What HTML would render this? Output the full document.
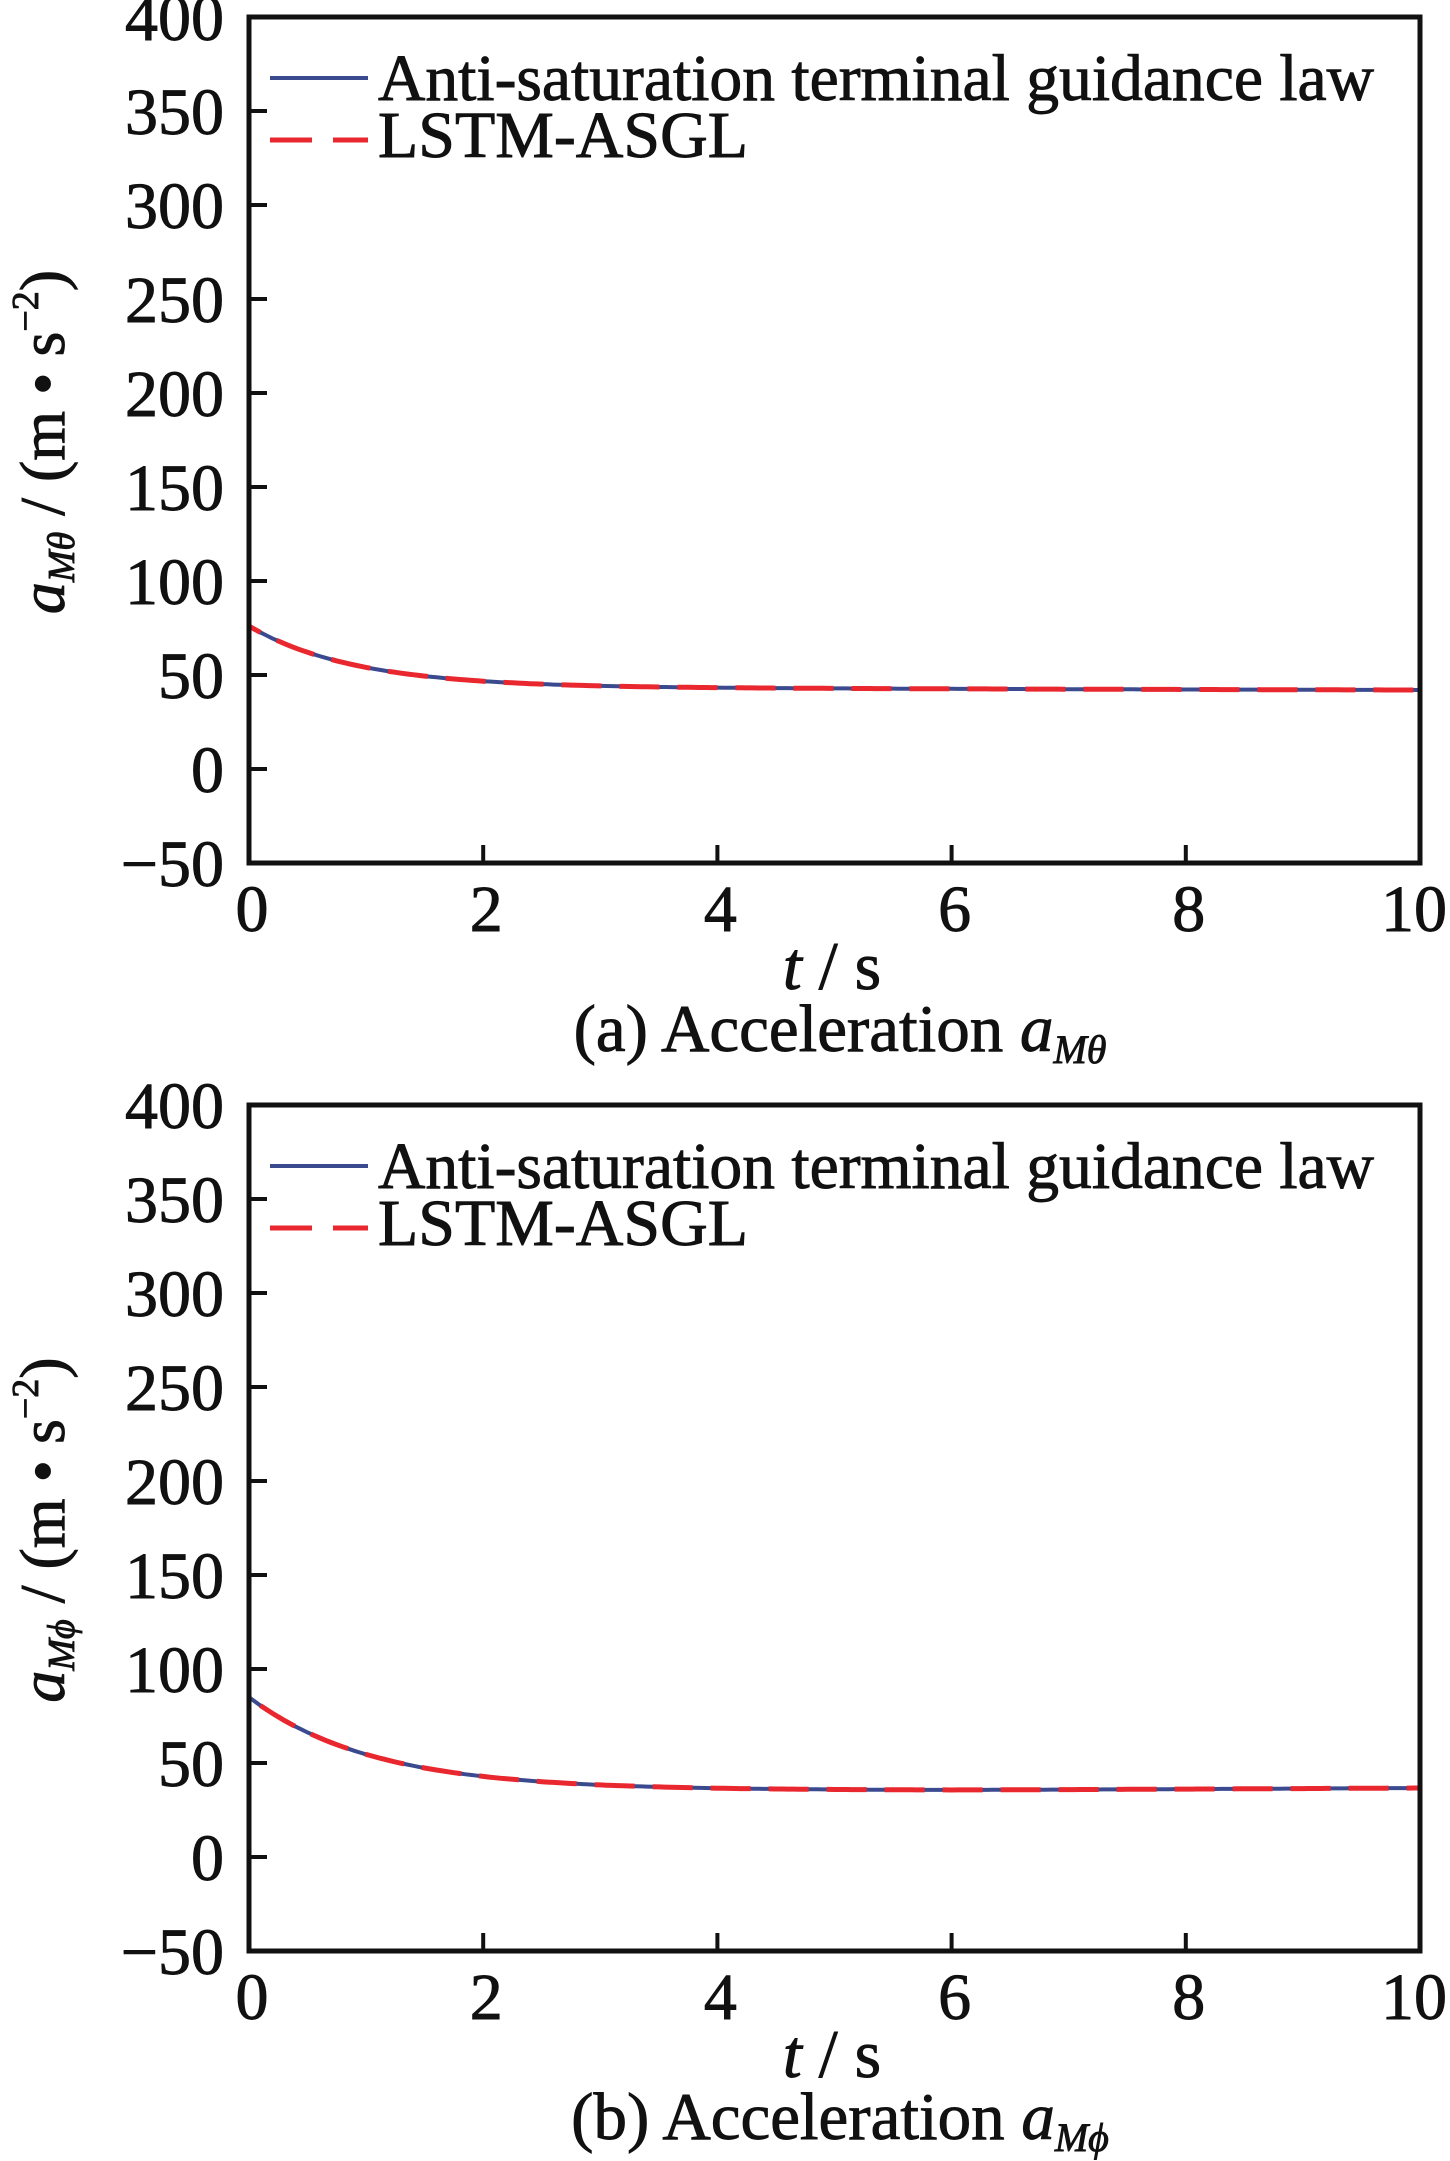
<!DOCTYPE html>
<html><head><meta charset="utf-8"><style>
html,body{margin:0;padding:0;background:#fff}
svg{display:block}
text{font-family:"Liberation Serif","Times New Roman",serif;fill:#111;stroke:#111;stroke-width:0.9}
</style></head><body>
<svg id="s" width="1450" height="2161" viewBox="0 0 1450 2161" xmlns="http://www.w3.org/2000/svg">
<g id="pa"></g>
<g id="pb"></g>
</svg>
<script>
var NS="http://www.w3.org/2000/svg";
function el(p,n,a,t){var e=document.createElementNS(NS,n);for(var k in a)e.setAttribute(k,a[k]);if(t!==undefined)e.textContent=t;p.appendChild(e);return e;}
function plot(g,top,f,lblSub,cap,capSub){
  var L=249,R=1420,B=top+846,ppu=94/50;
  var X=function(t){return L+(R-L)*t/10}, Y=function(v){return B-(v+50)*ppu};
  for(var v=-50;v<=400;v+=50){var y=Y(v);
    if(v>-50&&v<400){el(g,'line',{x1:L,y1:y,x2:L+18,y2:y,stroke:'#111','stroke-width':4});}
    el(g,'text',{x:224,y:y+23,'font-size':66,'text-anchor':'end'},v<0?'\u221250':String(v));}
  for(var t=0;t<=10;t+=2){var x=X(t);
    if(t>0&&t<10)el(g,'line',{x1:x,y1:B,x2:x,y2:B-18,stroke:'#111','stroke-width':4});
    el(g,'text',{x:x+(t==10?-6:3),y:B+68,'font-size':66,'text-anchor':'middle'},String(t));}
  var d='M'+X(0)+','+Y(0)+' L'+X(0)+','+Y(f(0));
  for(var i=1;i<=200;i++){var tt=i/20;d+=' L'+X(tt).toFixed(1)+','+Y(f(tt)).toFixed(1);}
  el(g,'path',{d:d,fill:'none',stroke:'#3b4a8f','stroke-width':4});
  el(g,'path',{d:d,fill:'none',stroke:'#e8282e','stroke-width':5,'stroke-dasharray':'40,18'});
  el(g,'rect',{x:L,y:top,width:R-L,height:B-top,fill:'none',stroke:'#111','stroke-width':5});
  el(g,'line',{x1:270,y1:top+61,x2:368,y2:top+61,stroke:'#3b4a8f','stroke-width':4});
  el(g,'line',{x1:270,y1:top+123,x2:312,y2:top+123,stroke:'#e8282e','stroke-width':5});
  el(g,'line',{x1:333,y1:top+123,x2:368,y2:top+123,stroke:'#e8282e','stroke-width':5});
  el(g,'text',{x:378,y:top+83,'font-size':66,textLength:996,lengthAdjust:'spacingAndGlyphs'},'Anti-saturation terminal guidance law');
  el(g,'text',{x:378,y:top+140,'font-size':66,textLength:370,lengthAdjust:'spacingAndGlyphs'},'LSTM-ASGL');
  var yl=el(g,'text',{transform:'translate(64,'+(top+425)+') rotate(-90)','font-size':64,'text-anchor':'middle'});
  el(yl,'tspan',{'font-style':'italic'},'a');
  el(yl,'tspan',{'font-style':'italic','font-size':38,dy:10},lblSub);
  el(yl,'tspan',{dy:-10},' / (m \u2022 s');
  el(yl,'tspan',{'font-size':38,dy:-26},'\u22122');
  el(yl,'tspan',{dy:26},')');
  var xl=el(g,'text',{x:832,y:B+126,'font-size':68,'text-anchor':'middle'});
  el(xl,'tspan',{'font-style':'italic'},'t');el(xl,'tspan',{},' / s');
  var c=el(g,'text',{x:840,y:B+188,'font-size':67,'text-anchor':'middle'});
  el(c,'tspan',{},cap+' ');el(c,'tspan',{'font-style':'italic'},'a');
  el(c,'tspan',{'font-style':'italic','font-size':40,dy:12},capSub);
}
plot(document.getElementById('pa'),17,function(t){return 43.5+32.5*Math.exp(-t/0.9)-0.15*t;},'M\u03B8','(a) Acceleration','M\u03B8');
plot(document.getElementById('pb'),1105,function(t){return 35.5+49.5*Math.exp(-t/1.05)+(t>6?0.3*(t-6):0);},'M\u03D5','(b) Acceleration','M\u03D5');
</script>
</body></html>
